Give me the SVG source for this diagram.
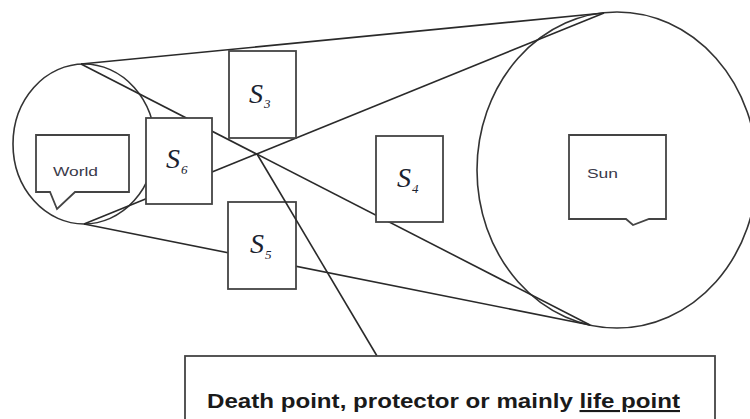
<svg xmlns="http://www.w3.org/2000/svg" width="750" height="419" viewBox="0 0 750 419">
<style>
.sh{fill:none;stroke:#333;stroke-width:1.6}
.bx{fill:#fff;stroke:#444;stroke-width:1.8}
.ln{fill:none;stroke:#2a2a2a;stroke-width:1.6}
.s{font-family:"Liberation Serif","Times New Roman",serif;font-style:italic;fill:#1a2230}
.big{font-size:28px}
.sub{font-size:13px}
.lbl{font-family:"Liberation Sans",Arial,sans-serif;font-size:13px;fill:#3a3a4a}
</style>
<rect width="750" height="419" fill="#fff"/>
<g id="world">
<ellipse class="sh" cx="84" cy="144" rx="71" ry="80"/>
<path class="bx" d="M36,135 H129 V192 H75 L57,209 L50,192 H36 Z"/>
<text class="lbl" x="53" y="176" textLength="45" lengthAdjust="spacingAndGlyphs">World</text>
</g>
<g id="sun">
<ellipse class="sh" cx="617" cy="170" rx="140" ry="158"/>
<path class="bx" d="M569,135 H666 V219 H649 L633,225 L626,219 H569 Z"/>
<text class="lbl" x="587" y="178" textLength="31" lengthAdjust="spacingAndGlyphs">Sun</text>
</g>
<g id="connectors">
<line class="ln" x1="81" y1="64" x2="604" y2="13"/>
<line class="ln" x1="84" y1="224" x2="590" y2="325"/>
<line class="ln" x1="81" y1="64" x2="590" y2="325"/>
<line class="ln" x1="84" y1="224" x2="604" y2="13"/>
</g>
<g id="s6">
<rect class="bx" x="146" y="118" width="66" height="86"/>
<text class="s big" x="166" y="168">S</text><text class="s sub" x="181" y="174">6</text>
</g>
<g id="s3">
<rect class="bx" x="229" y="51" width="67" height="87"/>
<text class="s big" x="249" y="103">S</text><text class="s sub" x="264" y="108">3</text>
</g>
<g id="s4">
<rect class="bx" x="376" y="136" width="67" height="86"/>
<text class="s big" x="397" y="187">S</text><text class="s sub" x="412" y="193">4</text>
</g>
<g id="s5">
<rect class="bx" x="228" y="202" width="68" height="87"/>
<text class="s big" x="250" y="253">S</text><text class="s sub" x="265" y="259">5</text>
</g>
<g id="pointer">
<line class="ln" x1="377" y1="356" x2="257" y2="154"/>
</g>
<g id="caption">
<rect class="bx" x="185" y="356" width="530" height="80"/>
<text x="207" y="408" font-family="'Liberation Sans',Arial,sans-serif" font-size="21" font-weight="bold" fill="#1a1a1a" textLength="473" lengthAdjust="spacingAndGlyphs">Death point, protector or mainly <tspan text-decoration="underline">life point</tspan></text>
</g>
</svg>
